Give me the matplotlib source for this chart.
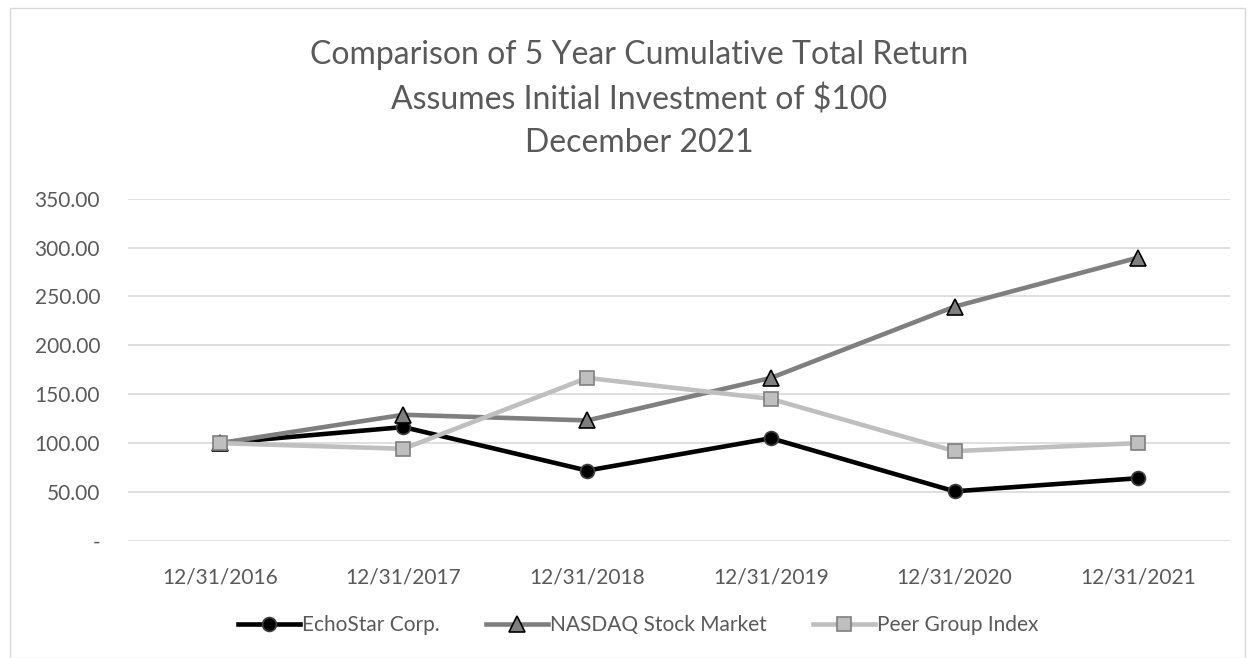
import matplotlib
matplotlib.use('Agg')
import matplotlib.pyplot as plt
import matplotlib.ticker as mticker
from matplotlib.patches import Rectangle

plt.rcParams.update({
    'font.family': ['Lato', 'DejaVu Sans'],
    'font.size': 15,
})

years = ['12/31/2016', '12/31/2017', '12/31/2018', '12/31/2019', '12/31/2020', '12/31/2021']
echostar = [100.00, 116.4, 71.9, 105.0, 50.7, 64.1]
nasdaq = [100.00, 129.0, 123.2, 166.7, 239.6, 289.8]
peer = [100.00, 94.2, 166.7, 145.2, 91.8, 100.0]

TXT = '#595959'

fig = plt.figure(figsize=(12.54, 6.58), dpi=100)
ax = fig.add_axes([0.102, 0.178, 0.879, 0.520])
fig.patches.append(Rectangle((0.008, 0.0), 0.985, 0.988, transform=fig.transFigure,
                             fill=False, edgecolor='#d9d9d9', linewidth=1))

x = range(len(years))
ax.plot(x, echostar, color='black', linewidth=3.3, marker='o', markersize=10,
        markerfacecolor='black', markeredgecolor='#404040', markeredgewidth=1.2,
        label='EchoStar Corp.', zorder=3)
ax.plot(x, nasdaq, color='#7f7f7f', linewidth=3.3, marker='^', markersize=11,
        markerfacecolor='#7f7f7f', markeredgecolor='black', markeredgewidth=1.2,
        label='NASDAQ Stock Market', zorder=4)
ax.plot(x, peer, color='#bfbfbf', linewidth=3.3, marker='s', markersize=10,
        markerfacecolor='#bfbfbf', markeredgecolor='#7f7f7f', markeredgewidth=1.2,
        label='Peer Group Index', zorder=5)

ax.set_xlim(-0.5, len(years) - 0.5)
ax.set_ylim(0, 350)
ax.set_yticks(range(0, 351, 50))
ax.yaxis.set_major_formatter(mticker.FuncFormatter(lambda v, p: '-' if v == 0 else f'{v:.2f}'))
ax.set_xticks(list(x))
ax.set_xticklabels(years)
ax.grid(axis='y', color='#d9d9d9', linewidth=1.2)
ax.set_axisbelow(True)
for s in ax.spines.values():
    s.set_visible(False)
ax.tick_params(length=0, colors=TXT, labelsize=15)
ax.tick_params(axis='x', pad=19)
ax.tick_params(axis='y', pad=20)

fig.text(0.51, 0.849, 'Comparison of 5 Year Cumulative Total Return\nAssumes Initial Investment of $100\nDecember 2021',
         ha='center', va='center', fontsize=23, color=TXT, linespacing=1.55)

leg = fig.legend(loc='center', bbox_to_anchor=(0.509, 0.05), ncol=3, frameon=False,
                 handlelength=3.0, handletextpad=0.1, columnspacing=2.2, fontsize=15)
for t in leg.get_texts():
    t.set_color(TXT)

fig.savefig('out.png', dpi=100)
